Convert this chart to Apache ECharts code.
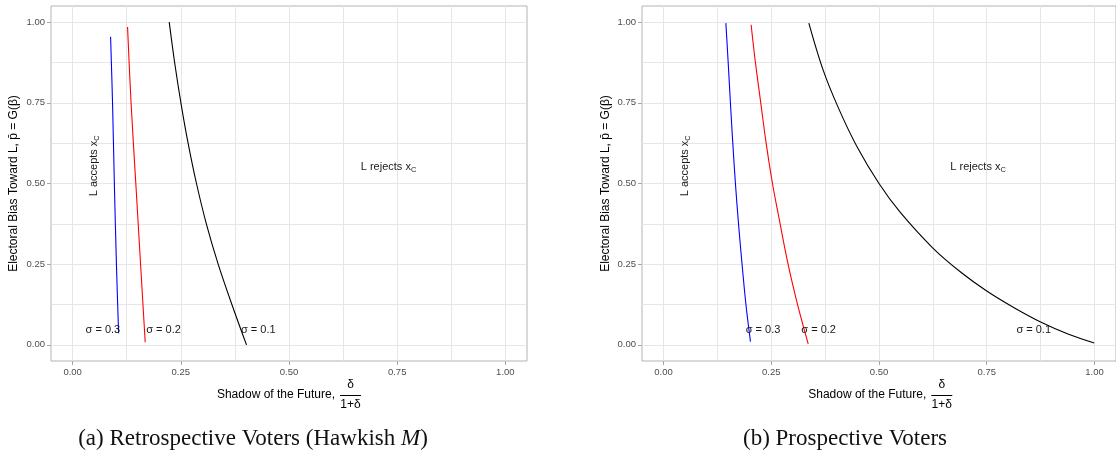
<!DOCTYPE html>
<html><head><meta charset="utf-8">
<script src="https://cdn.jsdelivr.net/npm/echarts@6/dist/echarts.min.js"></script>
<style>html,body{margin:0;padding:0;background:#fff}#c{width:1116px;height:453px}</style>
</head><body><div id="c"></div>
<script>
// ---------- data ----------
const xTicks = [0, 0.25, 0.5, 0.75, 1];
const yTicks = [0, 0.25, 0.5, 0.75, 1];
const gridVals = [0, 0.125, 0.25, 0.375, 0.5, 0.625, 0.75, 0.875, 1];

// Panel (a) Retrospective voters: [shadow of future, electoral bias]
const retroSigma03 = [[0.0877,0.955],[0.0922,0.75],[0.0964,0.5],[0.1012,0.25],[0.1062,0.036]];
const retroSigma02 = [[0.1269,0.985],[0.1350,0.75],[0.1460,0.5],[0.1570,0.25],[0.1677,0.008]];
const retroSigma01 = [[0.2232,1.0],[0.2357,0.875],[0.2502,0.75],[0.2668,0.625],[0.2862,0.5],[0.3090,0.375],[0.3363,0.25],[0.3680,0.125],[0.4018,0.0]];

// Panel (b) Prospective voters
const prospSigma03 = [[0.1446,0.997],[0.1500,0.875],[0.1552,0.75],[0.1607,0.625],[0.1668,0.5],[0.1740,0.375],[0.1822,0.25],[0.1912,0.125],[0.2017,0.010]];
const prospSigma02 = [[0.2032,0.992],[0.2132,0.875],[0.2256,0.75],[0.2381,0.625],[0.2528,0.5],[0.2680,0.3925],[0.2890,0.25],[0.3110,0.125],[0.3357,0.003]];
const prospSigma01 = [[0.3372,0.997],[0.3700,0.853],[0.4065,0.732],[0.4490,0.614],[0.5000,0.5],[0.5490,0.411],[0.6250,0.300],[0.6900,0.225],[0.7500,0.167],[0.8125,0.116],[0.8750,0.071],[0.9400,0.033],[0.9995,0.006]];

const sigmaNames = ['σ = 0.3', 'σ = 0.2', 'σ = 0.1'];
const retroSigmaLabelPos = [[0.070,0.047],[0.210,0.047],[0.429,0.047]];
const prospSigmaLabelPos = [[0.231,0.047],[0.360,0.047],[0.859,0.047]];
const acceptLabel = 'L accepts x{s|C}';
const rejectLabel = 'L rejects x{s|C}';
const retroAcceptPos = [0.050, 0.555];
const retroRejectPos = [0.730, 0.550];
const prospAcceptPos = [0.049, 0.555];
const prospRejectPos = [0.730, 0.550];

const yTitle = 'Electoral Bias Toward L, p\u0304 = G(β)';
const xTitle = 'Shadow of the Future,';
const captions = ['(a) Retrospective Voters (Hawkish {i|M})', '(b) Prospective Voters'];

// ---------- chart ----------
const FONT = '"Liberation Sans", Arial, sans-serif';
const SERIF = '"Liberation Serif", "DejaVu Serif", serif';
const colors = ['#0000ff', '#ff0000', '#000000'];
const gridLeft = [51, 642];

const chart = echarts.init(document.getElementById('c'), null, {renderer: 'canvas'});

function labelAxisX(g) {
  return {type:'value', gridIndex:g, min:-0.05, max:1.05, position:'bottom',
    axisLine:{show:false, onZero:false},
    axisTick:{show:false, customValues:gridVals},
    axisLabel:{customValues:xTicks, formatter:v=>v.toFixed(2), color:'#4d4d4d', fontSize:9.5, fontFamily:FONT, margin:6},
    splitLine:{show:true, customValues:gridVals, lineStyle:{color:'#e6e6e6', width:1}}};
}
function tickAxisX(g) {
  return {type:'value', gridIndex:g, min:-0.05, max:1.05, position:'bottom', offset:0,
    axisLine:{show:false, onZero:false},
    axisTick:{show:true, inside:false, customValues:xTicks, length:4, lineStyle:{color:'#a6a6a6', width:1}},
    axisLabel:{show:false}, splitLine:{show:false}};
}
function labelAxisY(g) {
  return {type:'value', gridIndex:g, min:-0.05, max:1.05, position:'left',
    axisLine:{show:false, onZero:false},
    axisTick:{show:false, customValues:gridVals},
    axisLabel:{customValues:yTicks, formatter:v=>v.toFixed(2), color:'#4d4d4d', fontSize:9.5, fontFamily:FONT, margin:6},
    splitLine:{show:true, customValues:gridVals, lineStyle:{color:'#e6e6e6', width:1}}};
}
function tickAxisY(g) {
  return {type:'value', gridIndex:g, min:-0.05, max:1.05, position:'left', offset:0,
    axisLine:{show:false, onZero:false},
    axisTick:{show:true, inside:false, customValues:yTicks, length:4, lineStyle:{color:'#a6a6a6', width:1}},
    axisLabel:{show:false}, splitLine:{show:false}};
}

function lineSeries(g, data, color) {
  return {type:'line', xAxisIndex:g*2, yAxisIndex:g*2, data:data, showSymbol:false, symbol:'none',
    smooth:0.35, silent:true, lineStyle:{color:color, width:1.1}, z:3};
}
const richSub = {s:{fontSize:7.5, fontFamily:FONT, color:'#1a1a1a', padding:[6,0,0,0]}};
function textSeries(g, items, rotate) {
  return {type:'scatter', xAxisIndex:g*2, yAxisIndex:g*2, symbolSize:0, silent:true, z:4,
    itemStyle:{opacity:1},
    data:items.map(it=>({name:it[0], value:it[1]})),
    label:{show:true, position:'inside', formatter:'{b}', color:'#1a1a1a', opacity:1, fontSize:11, fontFamily:FONT,
      rotate:rotate||0, rich:richSub}};
}

const series = [
  lineSeries(0, retroSigma03, colors[0]),
  lineSeries(0, retroSigma02, colors[1]),
  lineSeries(0, retroSigma01, colors[2]),
  lineSeries(1, prospSigma03, colors[0]),
  lineSeries(1, prospSigma02, colors[1]),
  lineSeries(1, prospSigma01, colors[2]),
  textSeries(0, sigmaNames.map((n,i)=>[n, retroSigmaLabelPos[i]])),
  textSeries(1, sigmaNames.map((n,i)=>[n, prospSigmaLabelPos[i]])),
  textSeries(0, [[rejectLabel, retroRejectPos]]),
  textSeries(1, [[rejectLabel, prospRejectPos]]),
  textSeries(0, [[acceptLabel, retroAcceptPos]], 90),
  textSeries(1, [[acceptLabel, prospAcceptPos]], 90)
];

function xTitleGroup(offset) {
  return {type:'group', x:offset, y:0, children:[
    {type:'text', style:{text:xTitle, x:335, y:395, align:'right', verticalAlign:'middle', font:'12px '+FONT, fill:'#000'}},
    {type:'text', style:{text:'δ', x:350.5, y:385, align:'center', verticalAlign:'middle', font:'12px '+FONT, fill:'#000'}},
    {type:'line', shape:{x1:340, y1:395.5, x2:361, y2:395.5}, style:{stroke:'#000', lineWidth:1}},
    {type:'text', style:{text:'1+δ', x:350.5, y:405, align:'center', verticalAlign:'middle', font:'12px '+FONT, fill:'#000'}}
  ]};
}

const option = {
  animation:false,
  backgroundColor:'#fff',
  grid:[
    {left:gridLeft[0], top:6, width:476, height:355, show:true, borderColor:'#b3b3b3', borderWidth:1, backgroundColor:'#fff', containLabel:false},
    {left:gridLeft[1], top:6, width:476, height:355, show:true, borderColor:'#b3b3b3', borderWidth:1, backgroundColor:'#fff', containLabel:false}
  ],
  xAxis:[labelAxisX(0), tickAxisX(0), labelAxisX(1), tickAxisX(1)],
  yAxis:[labelAxisY(0), tickAxisY(0), labelAxisY(1), tickAxisY(1)],
  series:series,
  graphic:[
    {type:'text', x:14, y:183.5, rotation:Math.PI/2, style:{text:yTitle, x:0, y:0, align:'center', verticalAlign:'middle', font:'12px '+FONT, fill:'#000'}},
    {type:'text', x:606, y:183.5, rotation:Math.PI/2, style:{text:yTitle, x:0, y:0, align:'center', verticalAlign:'middle', font:'12px '+FONT, fill:'#000'}},
    xTitleGroup(0),
    xTitleGroup(591.3),
    {type:'text', x:253, y:439, style:{text:captions[0], align:'center', verticalAlign:'middle', font:'23px '+SERIF, fill:'#111',
      rich:{i:{fontStyle:'italic', fontSize:23, fontFamily:SERIF, fill:'#111'}}}},
    {type:'text', x:845, y:439, style:{text:captions[1], align:'center', verticalAlign:'middle', font:'23px '+SERIF, fill:'#111'}}
  ]
};
chart.setOption(option);
</script>
</body></html>
